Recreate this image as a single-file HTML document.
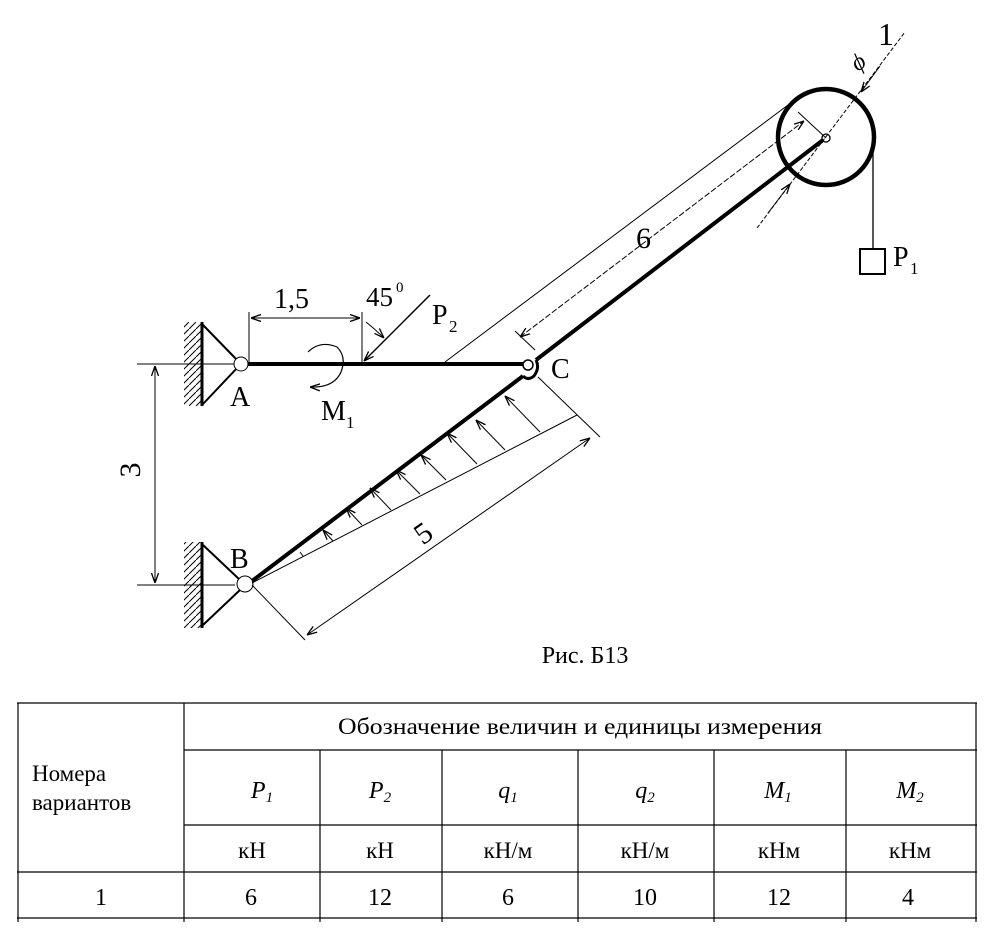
<!DOCTYPE html>
<html><head><meta charset="utf-8"><style>
body{margin:0;background:#fff;width:989px;height:935px;overflow:hidden}
svg{position:absolute;left:0;top:0}
text{font-family:"Liberation Serif","Noto Serif CJK SC",serif;fill:#000}
</style></head><body>
<svg width="989" height="935" viewBox="0 0 989 935">
<defs>
<marker id="ar" viewBox="0 0 10 10" refX="10" refY="5" markerWidth="10" markerHeight="10" orient="auto-start-reverse" markerUnits="userSpaceOnUse"><path d="M0,1.5 L10,5 L0,8.5" fill="none" stroke="#000" stroke-width="1.3"/></marker>
<pattern id="h" width="7" height="7" patternUnits="userSpaceOnUse"><path d="M7,0 L0,7" stroke="#000" stroke-width="1"/></pattern>
</defs>
<g stroke="#000" fill="none">
<rect x="184" y="322" width="18" height="84" fill="url(#h)" stroke="none"/>
<line x1="202" y1="322" x2="202" y2="406" stroke-width="3"/>
<path d="M203,325 L238,361 M203,404 L238,367" stroke-width="2"/>
<rect x="184" y="542" width="18" height="86" fill="url(#h)" stroke="none"/>
<line x1="202" y1="542" x2="202" y2="628" stroke-width="3"/>
<path d="M203,545 L240,580 M203,625 L240,590" stroke-width="2"/>
<line x1="137" y1="364" x2="235" y2="364" stroke-width="1"/>
<line x1="137" y1="585" x2="235" y2="585" stroke-width="1"/>
<line x1="155" y1="366" x2="155" y2="583" stroke-width="1" marker-start="url(#ar)" marker-end="url(#ar)"/>
<line x1="248" y1="364" x2="524" y2="364" stroke-width="4"/>
<line x1="252" y1="581" x2="523" y2="376" stroke-width="4"/>
<line x1="536" y1="360" x2="823" y2="140" stroke-width="4"/>
<path d="M523,376 Q528,381 534,376 Q540,368 536,360" stroke-width="3"/>
<circle cx="528" cy="365" r="5" fill="#fff" stroke-width="1.5"/>
<circle cx="241" cy="364" r="7" fill="#fff" stroke-width="1"/>
<circle cx="245" cy="584" r="8" fill="#fff" stroke-width="1"/>
<circle cx="826" cy="137" r="48" stroke-width="4.5"/>
<circle cx="826" cy="138" r="4" fill="#fff" stroke-width="1.3"/>
<line x1="873" y1="147" x2="873" y2="249" stroke-width="1.3"/>
<rect x="860" y="249" width="25" height="25" stroke-width="2"/>
<line x1="757" y1="228" x2="905" y2="32" stroke-width="1" stroke-dasharray="4,2"/>
<line x1="768" y1="213" x2="790" y2="184" stroke-width="1" marker-end="url(#ar)"/>
<line x1="880" y1="66" x2="861" y2="92" stroke-width="1" marker-end="url(#ar)"/>
<line x1="798" y1="112" x2="826" y2="138" stroke-width="1"/>
<line x1="445" y1="362" x2="788" y2="105" stroke-width="1"/>
<line x1="515" y1="331" x2="535" y2="350" stroke-width="1"/>
<line x1="520" y1="337" x2="804" y2="121" stroke-width="1" stroke-dasharray="6,2" marker-start="url(#ar)" marker-end="url(#ar)"/>
<line x1="249" y1="312" x2="249" y2="362" stroke-width="1"/>
<line x1="362" y1="312" x2="362" y2="362" stroke-width="1"/>
<line x1="251" y1="318" x2="360" y2="318" stroke-width="1" marker-start="url(#ar)" marker-end="url(#ar)"/>
<line x1="430" y1="295" x2="364" y2="361" stroke-width="1.5" marker-end="url(#ar)"/>
<path d="M366,322 Q376,330 384,338" stroke-width="1" marker-end="url(#ar)"/>
<path d="M308,352 Q320,340 337,347 Q347,357 341,372 Q334,388 310,387" stroke-width="1.2" marker-end="url(#ar)"/>
<line x1="252" y1="583" x2="577" y2="415" stroke-width="1"/>
<line x1="538" y1="377" x2="600" y2="437" stroke-width="1"/>
<line x1="252" y1="585" x2="305" y2="640" stroke-width="1"/>
<line x1="307" y1="635" x2="590" y2="438" stroke-width="1" marker-start="url(#ar)" marker-end="url(#ar)"/>
<g stroke-width="1" marker-end="url(#ar)">
<line x1="540" y1="432" x2="505" y2="396"/>
<line x1="505" y1="450" x2="476" y2="420"/>
<line x1="477" y1="464" x2="447" y2="433"/>
<line x1="446" y1="480" x2="421" y2="455"/>
<line x1="420" y1="494" x2="396" y2="470"/>
<line x1="391" y1="510" x2="370" y2="488"/>
<line x1="362" y1="525" x2="346" y2="508"/>
<line x1="333" y1="541" x2="323" y2="530"/>
<line x1="303" y1="556" x2="300" y2="552" marker-end="none"/>
</g>
</g>
<text x="274" y="308" font-size="28">1,5</text>
<text x="366" y="306" font-size="27">45</text>
<text x="396" y="292" font-size="15">0</text>
<text x="432" y="324" font-size="28">P</text>
<text x="449" y="332" font-size="17">2</text>
<text x="321" y="420" font-size="28">M</text>
<text x="346" y="428" font-size="17">1</text>
<text x="230" y="406" font-size="28">A</text>
<text x="230" y="568" font-size="28">B</text>
<text x="551" y="378" font-size="28">C</text>
<text x="414" y="542" font-size="30" transform="rotate(-35 424 530)">5</text>
<text x="636" y="248" font-size="30">6</text>
<text x="150" y="480" font-size="30" transform="rotate(-90 140 480)" text-anchor="middle">3</text>
<text x="893" y="266" font-size="28">P</text>
<text x="910" y="274" font-size="17">1</text>
<text x="878" y="45" font-size="32">1</text>
<text x="850" y="68" font-size="24" font-style="italic" transform="rotate(-35 860 58)">ϕ</text>
<text x="585" y="663" font-size="24" text-anchor="middle">Рис. Б13</text>
<g stroke="#000" stroke-width="1.2">
<line x1="17" y1="703" x2="977" y2="703"/>
<line x1="184" y1="750" x2="977" y2="750"/>
<line x1="184" y1="825" x2="977" y2="825"/>
<line x1="17" y1="872" x2="977" y2="872"/>
<line x1="17" y1="918" x2="977" y2="918"/>
<line x1="18" y1="703" x2="18" y2="922"/>
<line x1="184" y1="703" x2="184" y2="922"/>
<line x1="976" y1="703" x2="976" y2="922"/>
<line x1="320" y1="750" x2="320" y2="922"/>
<line x1="442" y1="750" x2="442" y2="922"/>
<line x1="578" y1="750" x2="578" y2="922"/>
<line x1="714" y1="750" x2="714" y2="922"/>
<line x1="846" y1="750" x2="846" y2="922"/>
</g>
<g font-size="23" text-anchor="middle">
<text x="580" y="734" textLength="484" lengthAdjust="spacingAndGlyphs">Обозначение величин и единицы измерения</text>
<text x="32" y="781" text-anchor="start">Номера</text>
<text x="32" y="810" text-anchor="start">вариантов</text>
<g font-style="italic" font-size="24"><text x="262" y="798">P<tspan font-size="15" dy="4">1</tspan></text>
<text x="380" y="798">P<tspan font-size="15" dy="4">2</tspan></text>
<text x="508" y="798">q<tspan font-size="15" dy="4">1</tspan></text>
<text x="645" y="798">q<tspan font-size="15" dy="4">2</tspan></text>
<text x="778" y="798">M<tspan font-size="15" dy="4">1</tspan></text>
<text x="910" y="798">M<tspan font-size="15" dy="4">2</tspan></text></g>
<text x="252" y="858">кН</text><text x="380" y="858">кН</text><text x="508" y="858">кН/м</text>
<text x="645" y="858">кН/м</text><text x="779" y="858">кНм</text><text x="910" y="858">кНм</text>
<g font-size="24"><text x="101" y="905">1</text><text x="251" y="905">6</text><text x="380" y="905">12</text>
<text x="508" y="905">6</text><text x="645" y="905">10</text><text x="779" y="905">12</text><text x="908" y="905">4</text></g>
</g>
</svg>
</body></html>
